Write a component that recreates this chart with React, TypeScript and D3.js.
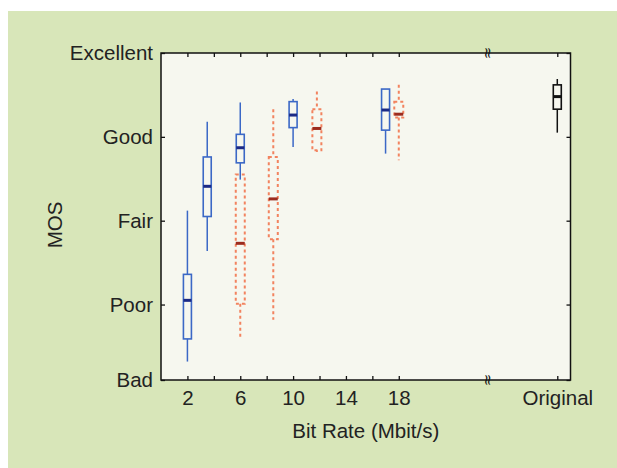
import React, { useRef, useEffect } from 'react';
import * as d3 from 'd3';

// blue (solid) boxes
const blueX = [2, 3.5, 6, 10, 17];
const blueLow = [1.32, 2.64, 3.49, 3.88, 3.8];
const blueQ1 = [1.59, 3.05, 3.69, 4.11, 4.08];
const blueMed = [2.05, 3.41, 3.87, 4.26, 4.32];
const blueQ3 = [2.36, 3.76, 4.03, 4.42, 4.57];
const blueHigh = [3.12, 4.18, 4.41, 4.45, 4.57];

// red (dotted) boxes
const redX = [6, 8.5, 11.8, 18];
const redLow = [1.6, 1.82, 3.82, 3.72];
const redQ1 = [2.01, 2.78, 3.84, 4.23];
const redMed = [2.73, 3.26, 4.1, 4.27];
const redQ3 = [3.55, 3.76, 4.33, 4.42];
const redHigh = [3.55, 4.33, 4.54, 4.62];

// original (black)
const origX = [30];
const origLow = [4.05];
const origQ1 = [4.33];
const origMed = [4.48];
const origQ3 = [4.62];
const origHigh = [4.69];

const xTickValues = [2, 4, 6, 8, 10, 12, 14, 16, 18, 30];
const xTickLabels = ['2', '', '6', '', '10', '', '14', '', '18', 'Original'];
const yTickValues = [1.1, 2, 3, 4, 5];
const yTickLabels = ['Bad', 'Poor', 'Fair', 'Good', 'Excellent'];
const xBreak = 24.7;

const FONT = '"Liberation Sans", Arial, Helvetica, sans-serif';
const FS = 20.5;

const App = () => {
  const ref = useRef(null);
  const width = 617;
  const height = 468;

  useEffect(() => {
    const svg = d3.select(ref.current);
    svg.selectAll('*').remove();

    svg.append('rect')
      .attr('x', 8).attr('y', 11)
      .attr('width', width - 8).attr('height', height - 11)
      .attr('fill', '#d8e6b9');

    const left = 161, right = 570.5, top = 53, bottom = 380;

    const x = d3.scaleLinear().domain([0, 31]).range([left, right]);
    const y = d3.scaleLinear().domain([1.1, 5]).range([bottom, top]);

    svg.append('rect')
      .attr('x', left).attr('y', top)
      .attr('width', right - left).attr('height', bottom - top)
      .attr('fill', '#f6f7ef');

    const tick = 4;
    const axisStyle = (g) => {
      g.select('.domain').remove();
      g.selectAll('line').attr('stroke', '#111').attr('stroke-width', 1.3);
      g.selectAll('text').attr('font-family', FONT).attr('font-size', FS).attr('fill', '#222');
    };

    // bottom axis
    svg.append('g')
      .attr('transform', `translate(0, ${bottom})`)
      .call(d3.axisBottom(x).tickValues(xTickValues).tickSize(-tick).tickPadding(10)
        .tickFormat((d, i) => xTickLabels[i]))
      .call(axisStyle);
    // top axis
    svg.append('g')
      .attr('transform', `translate(0, ${top})`)
      .call(d3.axisTop(x).tickValues(xTickValues).tickSize(-tick).tickFormat(''))
      .call(axisStyle);
    // left axis
    svg.append('g')
      .attr('transform', `translate(${left}, 0)`)
      .call(d3.axisLeft(y).tickValues(yTickValues).tickSize(-tick).tickPadding(8)
        .tickFormat((d, i) => yTickLabels[i]))
      .call(axisStyle);
    // right axis
    svg.append('g')
      .attr('transform', `translate(${right}, 0)`)
      .call(d3.axisRight(y).tickValues(yTickValues).tickSize(-tick).tickFormat(''))
      .call(axisStyle);

    svg.append('rect')
      .attr('x', left).attr('y', top)
      .attr('width', right - left).attr('height', bottom - top)
      .attr('fill', 'none').attr('stroke', '#111').attr('stroke-width', 1.5);

    // axis break marks
    [top, bottom].forEach((yy) => {
      svg.append('text')
        .attr('transform', `translate(${x(xBreak)}, ${yy}) rotate(90)`)
        .attr('text-anchor', 'middle')
        .attr('dy', '0.3em')
        .attr('font-family', '"DejaVu Serif", serif')
        .attr('font-size', 15)
        .attr('fill', '#111')
        .text('≈');
    });

    const drawBoxes = (xs, lows, q1s, meds, q3s, highs, stroke, medColor, dash, w) => {
      const g = svg.append('g');
      xs.forEach((xv, i) => {
        const cx = x(xv);
        g.append('line')
          .attr('x1', cx).attr('x2', cx)
          .attr('y1', y(highs[i])).attr('y2', y(q3s[i]))
          .attr('stroke', stroke).attr('stroke-width', dash ? 2 : 1.5)
          .attr('stroke-dasharray', dash);
        g.append('line')
          .attr('x1', cx).attr('x2', cx)
          .attr('y1', y(q1s[i])).attr('y2', y(lows[i]))
          .attr('stroke', stroke).attr('stroke-width', dash ? 2 : 1.5)
          .attr('stroke-dasharray', dash);
        g.append('rect')
          .attr('x', cx - w / 2).attr('y', y(q3s[i]))
          .attr('width', w).attr('height', y(q1s[i]) - y(q3s[i]))
          .attr('fill', 'none')
          .attr('stroke', stroke).attr('stroke-width', dash ? 2 : 1.6)
          .attr('stroke-dasharray', dash);
        g.append('line')
          .attr('x1', cx - w / 2).attr('x2', cx + w / 2)
          .attr('y1', y(meds[i])).attr('y2', y(meds[i]))
          .attr('stroke', medColor).attr('stroke-width', 3);
      });
    };

    drawBoxes(redX, redLow, redQ1, redMed, redQ3, redHigh, '#f2835f', '#9c2b1e', '3,3', 9);
    drawBoxes(blueX, blueLow, blueQ1, blueMed, blueQ3, blueHigh, '#3b68c6', '#1b2a86', null, 8);
    drawBoxes(origX, origLow, origQ1, origMed, origQ3, origHigh, '#111', '#111', null, 8);

    svg.append('text')
      .attr('x', (left + right) / 2).attr('y', 438)
      .attr('text-anchor', 'middle')
      .attr('font-family', FONT).attr('font-size', FS).attr('fill', '#222')
      .text('Bit Rate (Mbit/s)');

    svg.append('text')
      .attr('transform', 'translate(62, 225) rotate(-90)')
      .attr('text-anchor', 'middle')
      .attr('font-family', FONT).attr('font-size', FS).attr('fill', '#222')
      .text('MOS');
  }, []);

  return (
    <svg ref={ref} width={width} height={height}
      style={{ position: 'absolute', left: 0, top: 0 }} />
  );
};

export default App;
